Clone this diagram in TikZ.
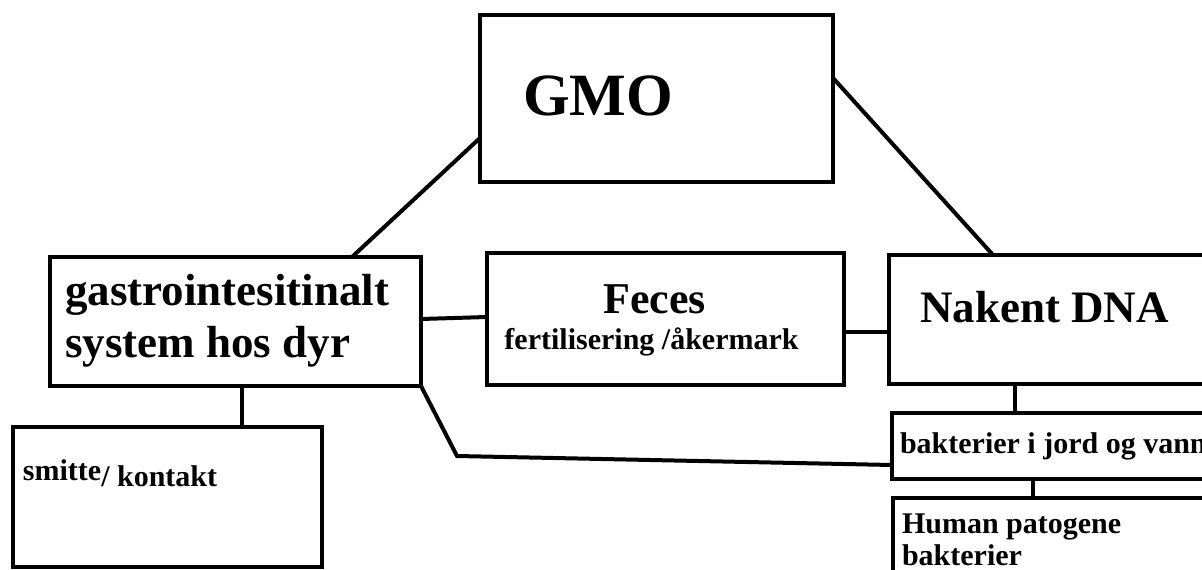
\documentclass[tikz,border=0pt]{standalone}
\usepackage{fontspec}
\setmainfont{Liberation Serif}
\begin{document}
\begin{tikzpicture}[x=1pt,y=-1pt,
  box/.style={draw=black, line width=4pt, fill=white, inner sep=0pt, outer sep=0pt, anchor=north west},
  txt/.style={inner sep=0pt, outer sep=0pt, font=\bfseries},
  conn/.style={draw=black, line width=4pt}]
\useasboundingbox (0,0) rectangle (1202,570);
\clip (0,0) rectangle (1202,570);
\fill[white] (0,0) rectangle (1202,570);
% boxes
\node[box, minimum width=353pt, minimum height=167pt] (gmo) at (480,15) {};
\node[box, minimum width=371pt, minimum height=129pt] (gastro) at (50,257) {};
\node[box, minimum width=309pt, minimum height=140pt] (smitte) at (13,427) {};
\node[box, minimum width=357pt, minimum height=132pt] (feces) at (487,253) {};
\node[box, minimum width=330pt, minimum height=129pt] (dna) at (889,255) {};
\node[box, minimum width=330pt, minimum height=66pt] (bakt) at (892,413) {};
\node[box, minimum width=330pt, minimum height=110pt] (human) at (893,498) {};
% connectors
\coordinate (bend) at (457,456);
\draw[conn] ([yshift=-39.5pt]gmo.west) -- ([xshift=116.5pt]gastro.north);
\draw[conn] ([yshift=20.5pt]gmo.east) -- ([xshift=104pt]dna.north west);
\draw[conn] ([xshift=6.5pt]gastro.south) -- ([xshift=6.5pt]gastro.south |- smitte.north);
\draw[conn] ([yshift=2.5pt]gastro.east) -- ([yshift=2pt]feces.west);
\draw[conn] ([yshift=-13pt]feces.east) -- ([yshift=-13pt]feces.east -| dna.west);
\draw[conn] (gastro.south east) -- (bend) -- ([yshift=-19pt]bakt.west);
\draw[conn] ([xshift=126pt]dna.south west) -- ([xshift=123pt]bakt.north west);
\draw[conn] ([xshift=141pt]bakt.south west) -- ([xshift=140pt]human.north west);
% texts
\node[txt, anchor=base west, font=\bfseries\fontsize{60}{60}\selectfont] (tgmo) at (523,115) {GMO};
\node[txt, anchor=base west, font=\bfseries\fontsize{45}{52}\selectfont] (tg1) at (65,305) {gastrointesitinalt};
\node[txt, anchor=base west, font=\bfseries\fontsize{45}{52}\selectfont] (tg2) at (65,357) {system hos dyr};
\node[txt, anchor=base, font=\bfseries\fontsize{44}{44}\selectfont] (tfe) at (654.5,313) {Feces};
\node[txt, anchor=base, font=\bfseries\fontsize{30}{30}\selectfont] (tfe2) at (651.5,349) {fertilisering /åkermark};
\node[txt, anchor=base west, font=\bfseries\fontsize{45}{45}\selectfont] (tdna) at (920,322) {Nakent DNA};
\node[txt, anchor=base west, font=\bfseries\fontsize{30}{30}\selectfont] (tsm) at (23,486) {\raisebox{6pt}{smitte}/ kontakt};
\node[txt, anchor=base west, font=\bfseries\fontsize{30}{30}\selectfont] (tba) at (900,453) {bakterier i jord og vann};
\node[txt, anchor=base west, font=\bfseries\fontsize{30}{30}\selectfont] (th1) at (902,533) {Human patogene};
\node[txt, anchor=base west, font=\bfseries\fontsize{30}{30}\selectfont] (th2) at (902,565) {bakterier};
\end{tikzpicture}
\end{document}
